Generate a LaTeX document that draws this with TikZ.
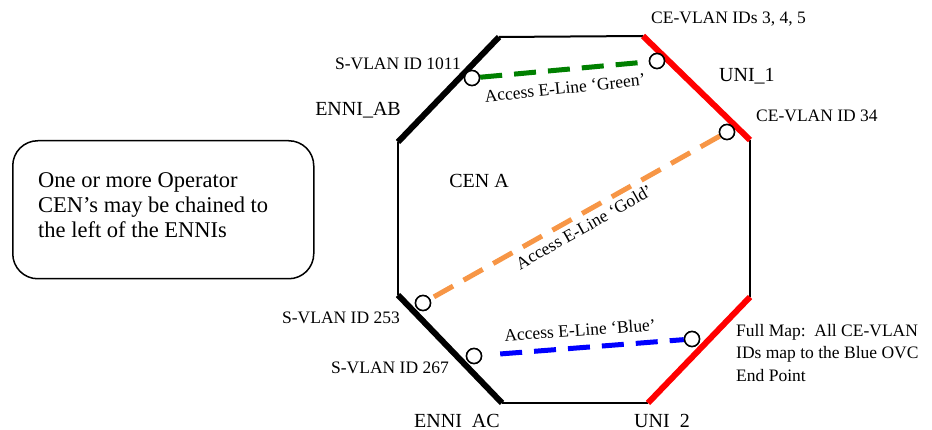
\documentclass[tikz,border=0pt]{standalone}
\usepackage{fontspec}
\setmainfont{Liberation Serif}
\definecolor{goldevc}{RGB}{247,150,70}
\definecolor{greenevc}{RGB}{0,128,0}
\begin{document}
\begin{tikzpicture}[x=1pt,y=1pt,
  thin/.style={line width=2pt,black},
  ennithick/.style={line width=6pt,black},
  unithick/.style={line width=6pt,red},
  ep/.style={circle,draw=black,line width=1.5pt,fill=white,minimum size=15pt,inner sep=0pt},
  evc/.style={line width=5pt,dash pattern=on 22pt off 12pt},
  lbl/.style={font=\fontsize{17.5}{20}\selectfont,inner sep=0pt},
  biglbl/.style={font=\fontsize{20}{22}\selectfont,inner sep=0pt}]
\useasboundingbox (0,0) rectangle (932,-430);
% octagon vertices
\coordinate (v1) at (499,-37);
\coordinate (v2) at (643,-36);
\coordinate (v3) at (750,-140);
\coordinate (v4) at (750,-297);
\coordinate (v5) at (648,-403);
\coordinate (v6) at (502,-403);
\coordinate (v7) at (398,-295);
\coordinate (v8) at (398,-142);
\draw[thin] (v1) -- (v2);
\draw[thin] (v3) -- (v4);
\draw[thin] (v5) -- (v6);
\draw[thin] (v7) -- (v8);
\draw[ennithick] (v8) -- (v1);
\draw[ennithick] (v6) -- (v7);
\draw[unithick] (v2) -- (v3);
\draw[unithick] (v4) -- (v5);
% endpoints
\node[ep] (g1) at (472,-78) {};
\node[ep] (g2) at (657,-61) {};
\node[ep] (o1) at (727,-132) {};
\node[ep] (o2) at (423,-303) {};
\node[ep] (b1) at (474,-356) {};
\node[ep] (b2) at (692,-339) {};
% EVCs
\draw[evc,greenevc] (g1) -- (g2);
\draw[evc,goldevc] (o1) -- (o2);
\draw[evc,blue,shorten <=18pt] (b1) -- (b2);
\node[ep] at (g1) {};
\node[ep] at (g2) {};
\node[ep] at (o1) {};
\node[ep] at (o2) {};
\node[ep] at (b1) {};
\node[ep] at (b2) {};
% labels
\node[lbl,anchor=west] (t1) at (651,-19) {CE-VLAN IDs 3, 4, 5};
\node[lbl,anchor=east] (t2) at (461,-64) {S-VLAN ID 1011};
\node[biglbl,anchor=west] (t3) at (719,-76) {UNI\_1};
\node[biglbl,anchor=east] (t4) at (401,-110) {ENNI\_AB};
\node[lbl,anchor=west] (t5) at (756,-116) {CE-VLAN ID 34};
\node[lbl,rotate=6] (t6) at (565,-88) {Access E-Line ‘Green’};
\node[biglbl] (t7) at (479,-181) {CEN A};
\node[lbl,rotate=29.5] (t8) at (584,-227) {Access E-Line ‘Gold’};
\node[lbl,anchor=east] (t9) at (400,-318) {S-VLAN ID 253};
\node[lbl,rotate=4] (t10) at (580,-330) {Access E-Line ‘Blue’};
\node[lbl,anchor=east] (t11) at (449,-368) {S-VLAN ID 267};
\node[lbl,anchor=north west,align=left,font=\fontsize{17.5}{22.5}\selectfont] (t12) at (736,-324) {Full Map:\ \ All CE-VLAN\\IDs map to the Blue OVC\\End Point};
\node[biglbl,anchor=base] (t13) at (457,-427.5) {ENNI\ \ AC};
\node[biglbl,anchor=base] (t14) at (662,-427.5) {UNI\ \ 2};
% note box
\node[draw=black,line width=1.5pt,rounded corners=25pt,minimum width=301pt,minimum height=138pt,anchor=north west] (box) at (12,-140) {};
\node[anchor=north west,align=left,inner sep=0pt,font=\fontsize{22.5}{25}\selectfont] (boxtxt) at (38,-172) {One or more Operator\\CEN’s may be chained to\\the left of the ENNIs};
\end{tikzpicture}
\end{document}
